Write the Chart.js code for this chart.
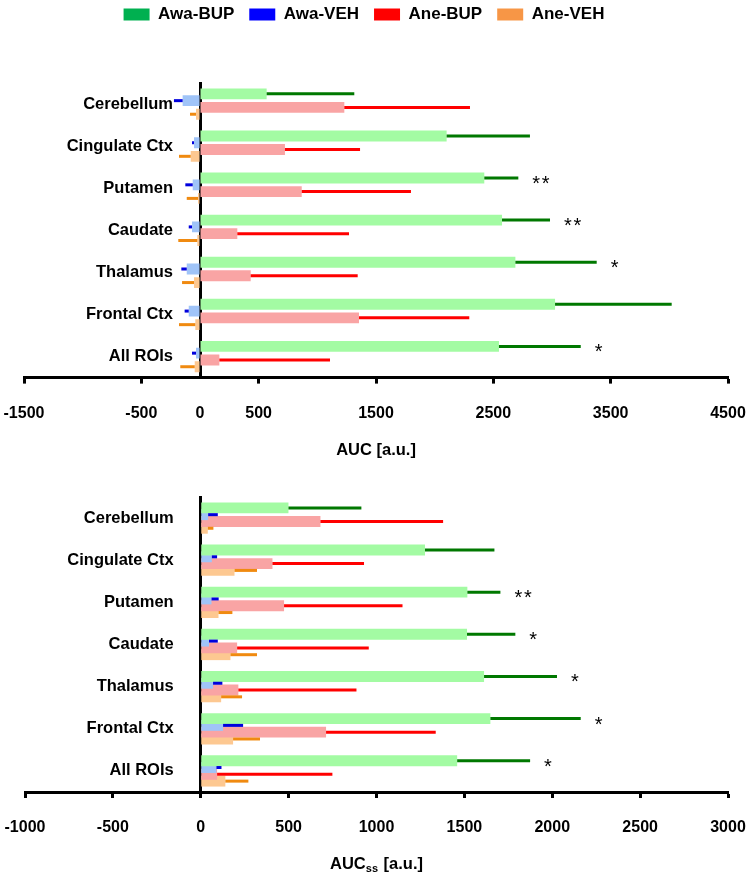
<!DOCTYPE html>
<html>
<head>
<meta charset="utf-8">
<script src="https://cdn.jsdelivr.net/npm/chart.js@4.4.1/dist/chart.umd.min.js"></script>
<style>
    html, body { margin: 0; padding: 0; background: #fff; }
    .panel { position: absolute; left: 0; width: 750px; }
    #panelAuc { top: 0; height: 470px; }
    #panelAucss { top: 470px; height: 405px; }
</style>
</head>
<body>
<div class="panel" id="panelAuc"><canvas id="chartAuc"></canvas></div>
<div class="panel" id="panelAucss"><canvas id="chartAucss"></canvas></div>
<script>
const categories = ['Cerebellum', 'Cingulate Ctx', 'Putamen', 'Caudate', 'Thalamus', 'Frontal Ctx', 'All ROIs'];
const seriesNames = ['Awa-BUP', 'Awa-VEH', 'Ane-BUP', 'Ane-VEH'];

// AUC (top panel), mean and SEM per region
const awaBupAuc = [568, 2102, 2423, 2574, 2688, 3026, 2548];
const awaBupAucSem = [747, 710, 290, 409, 693, 994, 697];
const awaVehAuc = [-148, -51, -62, -68, -113, -96, -34];
const awaVehAucSem = [74, 17, 63, 28, 46, 35, 34];
const aneBupAuc = [1230, 724, 867, 318, 432, 1355, 165];
const aneBupAucSem = [1071, 640, 931, 952, 912, 940, 943];
const aneVehAuc = [-34, -79, -17, -23, -51, -40, -45];
const aneVehAucSem = [51, 100, 96, 162, 102, 139, 123];
const aucStars = ['', '', '**', '**', '*', '', '*'];
const aucTicks = [-1500, -500, 0, 500, 1500, 2500, 3500, 4500];

// AUCss (bottom panel)
const awaBupAucss = [499, 1276, 1517, 1515, 1612, 1648, 1459];
const awaBupAucssSem = [415, 395, 188, 275, 415, 514, 415];
const awaVehAucss = [42, 63, 61, 47, 70, 127, 89];
const awaVehAucssSem = [55, 30, 41, 50, 53, 114, 29];
const aneBupAucss = [681, 408, 474, 207, 214, 713, 93];
const aneBupAucssSem = [698, 521, 674, 749, 672, 624, 656];
const aneVehAucss = [40, 192, 101, 169, 116, 184, 140];
const aneVehAucssSem = [32, 128, 79, 151, 119, 153, 131];
const aucssStars = ['', '', '**', '*', '*', '*', '*'];
const aucssTicks = [-1000, -500, 0, 500, 1000, 1500, 2000, 2500, 3000];

const legendColors = ['#00b050', '#0000ff', '#ff0000', '#f79646'];
const barColors = ['#a3fba3', '#a0c4f8', '#f9a4a4', '#fdc891'];
const errorColors = ['#007800', '#0000dd', '#ff0000', '#f08a10'];

const FONT = "'Liberation Sans', Arial, sans-serif";
Chart.defaults.font.family = FONT;
Chart.defaults.color = '#000';

// one-sided SEM bars plus significance stars
const errorBars = {
    id: 'errorBars',
    afterDatasetsDraw(chart, args, opts) {
        const ctx = chart.ctx;
        const xScale = chart.scales.x;
        ctx.save();
        ctx.lineWidth = 3;
        chart.data.datasets.forEach((ds, i) => {
            const meta = chart.getDatasetMeta(i);
            ctx.strokeStyle = errorColors[i];
            meta.data.forEach((bar, j) => {
                const v = ds.data[j];
                const dir = v < 0 ? -1 : 1;
                const end = xScale.getPixelForValue(v + dir * ds.sem[j]);
                ctx.beginPath();
                ctx.moveTo(bar.x, bar.y);
                ctx.lineTo(end, bar.y);
                ctx.stroke();
            });
        });
        // stars next to the Awa-BUP error bar
        const first = chart.data.datasets[0];
        const meta0 = chart.getDatasetMeta(0);
        ctx.fillStyle = '#000';
        ctx.font = '20px ' + FONT;
        ctx.textAlign = 'left';
        ctx.textBaseline = 'alphabetic';
        (opts.stars || []).forEach((s, j) => {
            if (!s) return;
            const bar = meta0.data[j];
            const end = xScale.getPixelForValue(first.data[j] + first.sem[j]);
            for (let k = 0; k < s.length; k++) {
                ctx.fillText('*', end + 14 + k * 9.5, bar.y + 12);
            }
        });
        ctx.restore();
    }
};

// x-axis title with optional subscript
const axisTitle = {
    id: 'axisTitle',
    afterDraw(chart, args, opts) {
        const {ctx, chartArea} = chart;
        const main = opts.text || '';
        const sub = opts.sub || '';
        const rest = opts.rest || '';
        const bigFont = 'bold 16.5px ' + FONT;
        const smallFont = 'bold 11px ' + FONT;
        ctx.save();
        ctx.fillStyle = '#000';
        ctx.textBaseline = 'alphabetic';
        ctx.textAlign = 'left';
        ctx.font = bigFont;
        const w1 = ctx.measureText(main).width;
        const w3 = ctx.measureText(rest).width;
        ctx.font = smallFont;
        const w2 = sub ? ctx.measureText(sub).width + 1 : 0;
        let x = (chartArea.left + chartArea.right) / 2 - (w1 + w2 + w3) / 2;
        const y = chartArea.bottom + 71 + 6;
        ctx.font = bigFont;
        ctx.fillText(main, x, y);
        x += w1;
        if (sub) {
            ctx.font = smallFont;
            ctx.fillText(sub, x, y + 3);
            x += w2;
        }
        ctx.font = bigFont;
        ctx.fillText(rest, x, y);
        ctx.restore();
    }
};

// extra room under the legend, and nudge it a bit to the left
const legendSpacer = {
    id: 'legendSpacer',
    beforeInit(chart) {
        if (!chart.legend) return;
        const fit = chart.legend.fit;
        chart.legend.fit = function () {
            fit.bind(chart.legend)();
            this.height += 50;
        };
    },
    afterLayout(chart) {
        if (!chart.legend) return;
        chart.legend.left -= 12;
        chart.legend.right -= 12;
    }
};

const makeDatasets = (values, sems) => values.map((data, i) => ({
    label: seriesNames[i],
    data: data,
    sem: sems[i],
    backgroundColor: barColors[i],
    borderWidth: 0,
    categoryPercentage: 0.645,
    barPercentage: 1.6
}));

const noPadY = scale => {
    scale.paddingTop = 0;
    scale.paddingBottom = 0;
};

const makeChart = (canvasId, values, sems, ticks, stars, title, sub, showLegend, padding, labelShift) => {
    const canvas = document.getElementById(canvasId);
    return new Chart(canvas.getContext('2d'), {
        type: 'bar',
        data: {
            labels: categories,
            datasets: makeDatasets(values, sems)
        },
        options: {
            indexAxis: 'y',
            responsive: true,
            maintainAspectRatio: false,
            animation: false,
            layout: { padding: padding },
            scales: {
                x: {
                    type: 'linear',
                    min: ticks[0],
                    max: ticks[ticks.length - 1],
                    afterBuildTicks: scale => {
                        scale.ticks = ticks.map(v => ({ value: v }));
                    },
                    afterFit: scale => {
                        scale.paddingLeft = 0;
                        scale.paddingRight = 0;
                    },
                    grid: {
                        drawOnChartArea: false,
                        drawTicks: true,
                        tickLength: 6,
                        tickWidth: 3,
                        tickColor: c => (showLegend && c.tick && c.tick.value === 0) ? 'rgba(0,0,0,0)' : '#000'
                    },
                    border: { display: true, color: '#000', width: 3 },
                    ticks: {
                        autoSkip: false,
                        maxRotation: 0,
                        padding: 20.4,
                        font: { size: 16, weight: 'bold' },
                        color: '#000',
                        callback: v => String(v)
                    }
                },
                y: {
                    position: { x: 0 },
                    z: 1,
                    afterFit: noPadY,
                    grid: { display: false, drawTicks: false },
                    border: { display: true, color: '#000', width: 3 },
                    ticks: { display: false }
                },
                // label-only axis, sits a little left of the zero line
                yLabels: {
                    type: 'category',
                    axis: 'y',
                    position: { x: labelShift },
                    afterFit: noPadY,
                    grid: { display: false, drawTicks: false },
                    border: { display: false },
                    ticks: {
                        font: { size: 16.5, weight: 'bold' },
                        color: '#000'
                    }
                }
            },
            plugins: {
                legend: {
                    display: showLegend,
                    position: 'top',
                    labels: {
                        boxWidth: 26,
                        boxHeight: 12,
                        padding: 15,
                        font: { size: 17, weight: 'bold' },
                        color: '#000',
                        generateLabels: chart => chart.data.datasets.map((ds, i) => ({
                            text: ds.label,
                            fillStyle: legendColors[i],
                            strokeStyle: legendColors[i],
                            lineWidth: 0,
                            hidden: false,
                            datasetIndex: i,
                            fontColor: '#000'
                        }))
                    }
                },
                tooltip: { enabled: false },
                errorBars: { stars: stars },
                axisTitle: { text: title, sub: sub, rest: ' [a.u.]' }
            }
        },
        plugins: showLegend ? [legendSpacer, errorBars, axisTitle] : [errorBars, axisTitle]
    });
};

makeChart('chartAuc',
    [awaBupAuc, awaVehAuc, aneBupAuc, aneVehAuc],
    [awaBupAucSem, awaVehAucSem, aneBupAucSem, aneVehAucSem],
    aucTicks, aucStars, 'AUC', '', true,
    { top: -9, left: 24, right: 22, bottom: 26.4 }, -230);

makeChart('chartAucss',
    [awaBupAucss, awaVehAucss, aneBupAucss, aneVehAucss],
    [awaBupAucssSem, awaVehAucssSem, aneBupAucssSem, aneVehAucssSem],
    aucssTicks, aucssStars, 'AUC', 'ss', false,
    { top: 27, left: 25, right: 22, bottom: 17 }, -154);
</script>
</body>
</html>
